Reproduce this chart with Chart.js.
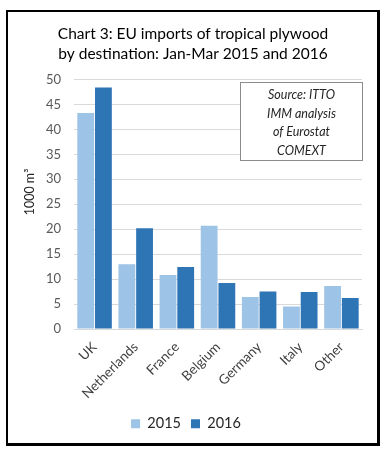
<!DOCTYPE html>
<html>
<head>
<meta charset="utf-8">
<script src="https://cdn.jsdelivr.net/npm/chart.js@4/dist/chart.umd.min.js"></script>
<style>
html,body{margin:0;padding:0;background:#fff;}
#wrap{position:absolute;left:0;top:0;width:392px;height:453px;}
#frame{position:absolute;left:6px;top:10px;width:369px;height:431px;border-left:2px solid #000;border-top:2px solid #000;border-right:3px solid #000;border-bottom:3px solid #000;pointer-events:none;}
</style>
</head>
<body>
<div id="wrap"><canvas id="c" width="392" height="453"></canvas></div>
<div id="frame"></div>
<script>
const categories = ["UK","Netherlands","France","Belgium","Germany","Italy","Other"];
const values2015 = [43.3, 13.0, 10.8, 20.7, 6.4, 4.5, 8.6];
const values2016 = [48.4, 20.2, 12.4, 9.2, 7.5, 7.4, 6.2];
const seriesNames = ["2015","2016"];
const yTicks = [0,5,10,15,20,25,30,35,40,45,50];
const titleLines = ["Chart 3: EU imports of tropical plywood","by destination: Jan-Mar 2015 and 2016"];
const yTitle = "1000 m³";
const sourceLines = ["Source: ITTO","IMM analysis","of Eurostat","COMEXT"];

const FONT = "Lato, 'Open Sans', sans-serif";

const textDecor = {
  id:'textDecor',
  afterDraw(chart){
    const ctx = chart.ctx;
    ctx.save();
    // chart title
    ctx.fillStyle = '#000';
    ctx.font = "15.5px " + FONT;
    ctx.textAlign = 'center';
    ctx.textBaseline = 'alphabetic';
    titleLines.forEach((t,i)=>ctx.fillText(t, 193, 38.5 + i*20.5));
    // y axis title
    ctx.save();
    ctx.translate(30, 192);
    ctx.rotate(-Math.PI/2);
    ctx.fillStyle = '#262626';
    ctx.font = "12.5px " + FONT;
    ctx.textBaseline = 'middle';
    ctx.fillText(yTitle, 0, 0);
    ctx.restore();
    // source box
    const x0 = 240, x1 = 363;
    const y0 = 82, y1 = 161;
    ctx.fillStyle = '#fff';
    ctx.fillRect(x0,y0,x1-x0,y1-y0);
    ctx.strokeStyle = '#8c8c8c';
    ctx.lineWidth = 1;
    ctx.strokeRect(x0+0.5,y0+0.5,x1-x0-1,y1-y0-1);
    ctx.fillStyle = '#262626';
    ctx.font = "italic 12.5px " + FONT;
    ctx.textAlign = 'center';
    ctx.textBaseline = 'middle';
    sourceLines.forEach((t,i)=>ctx.fillText(t,(x0+x1)/2, y0+13+i*18.5));
    ctx.restore();
  }
};

new Chart(document.getElementById('c'), {
  type:'bar',
  data:{
    labels: categories,
    datasets:[
      {label:seriesNames[0], data:values2015, backgroundColor:'#9DC3E6', borderWidth:0},
      {label:seriesNames[1], data:values2016, backgroundColor:'#2E75B6', borderWidth:0}
    ]
  },
  options:{
    responsive:false,
    animation:false,
    devicePixelRatio:1,
    layout:{padding:{left:10,right:30,top:79.5,bottom:12}},
    plugins:{
      title:{display:false},
      legend:{position:'bottom',labels:{color:'#262626',font:{family:FONT,size:14.5},boxWidth:9,boxHeight:9,padding:10}},
      tooltip:{enabled:false}
    },
    datasets:{bar:{categoryPercentage:0.86,barPercentage:0.95}},
    scales:{
      x:{
        afterFit(s){s.height = 77.5;},
        grid:{display:false},
        border:{color:'#d9d9d9',width:1},
        ticks:{color:'#404040',font:{family:FONT,size:13.5},minRotation:45,maxRotation:45,padding:2}
      },
      y:{
        min:0,max:50,
        afterFit(s){s.width = 64;},
        afterBuildTicks(s){s.ticks = yTicks.map(v=>({value:v}));},
        grid:{color:'#d9d9d9',drawTicks:false},
        border:{display:false},
        ticks:{color:'#595959',font:{family:FONT,size:13},padding:13}
      }
    }
  },
  plugins:[textDecor]
});
</script>
</body>
</html>
